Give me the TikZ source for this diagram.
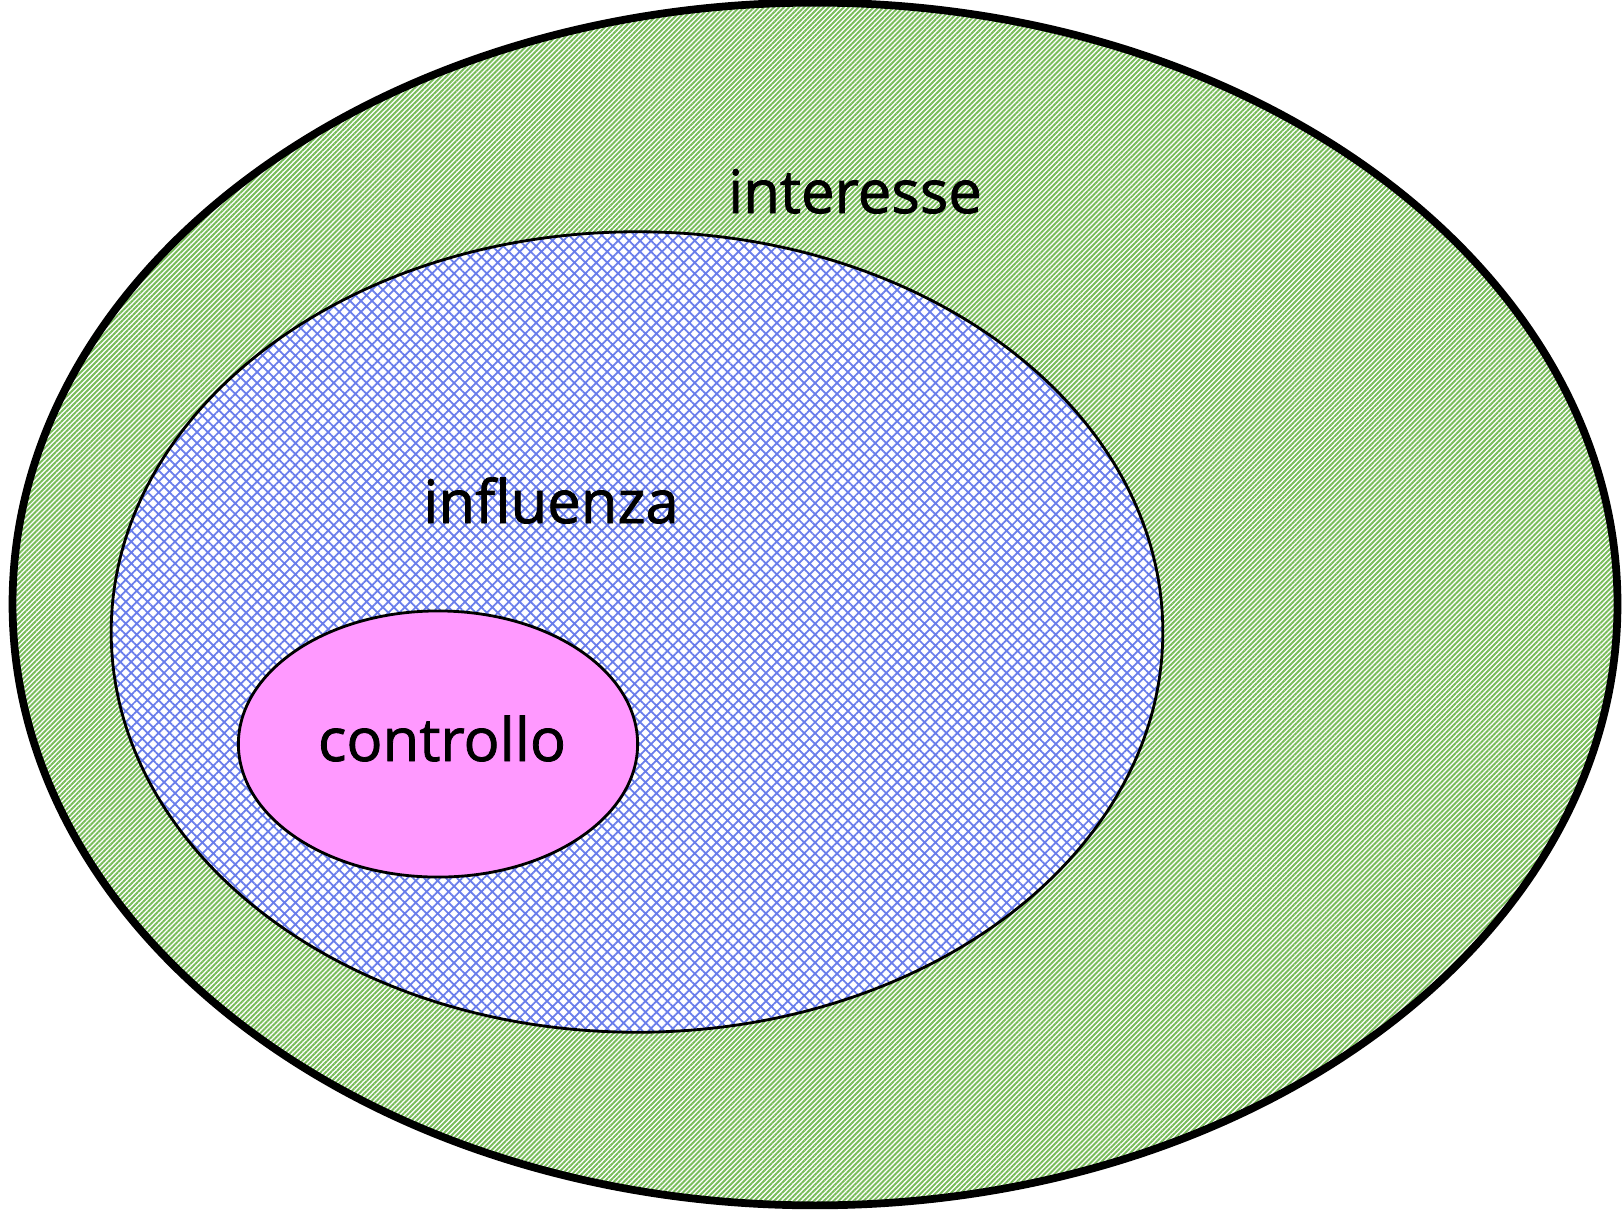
\documentclass[tikz,border=0pt]{standalone}
\usepackage{fontspec}
\setmainfont{Open Sans}
\newfontfamily\zonefont[FakeBold=1.3]{Open Sans}
\usetikzlibrary{shapes.geometric,patterns.meta}

\definecolor{stripegreen}{RGB}{120,188,90}
\definecolor{meshblue}{RGB}{105,125,235}
\definecolor{controlpink}{RGB}{255,153,255}

\tikzset{
  zone/.style={ellipse, draw=black, inner sep=0pt},
  interessezone/.style={zone, line width=2.2pt,
    preaction={fill=white},
    pattern={Lines[angle=45, distance=1pt, line width=0.55pt]}, pattern color=stripegreen},
  influenzazone/.style={zone, line width=0.8pt,
    preaction={fill=white},
    pattern={Hatch[angle=45, distance=2.2pt, line width=0.5pt]}, pattern color=meshblue},
  controllozone/.style={zone, line width=0.8pt, fill=controlpink},
  label/.style={font=\zonefont\fontsize{17}{20}\selectfont, anchor=base}
}

\begin{document}
\begin{tikzpicture}[x=0.01cm, y=-0.01cm]
    \useasboundingbox (0,0) rectangle (1622,1209);

    \node[interessezone, minimum width=16.04cm, minimum height=12.02cm] (interesse) at (815, 604) {};
    \node[influenzazone, minimum width=10.51cm, minimum height=8.0cm] (influenza) at (637, 632) {};
    \node[controllozone, minimum width=3.99cm, minimum height=2.66cm] (controllo) at (438, 744) {};

    \node[label] (interesselabel) at (855, 213) {interesse};
    \node[label] (influenzalabel) at (551, 523) {influenza};
    \node[label] (controllolabel) at (442, 761) {controllo};
\end{tikzpicture}
\end{document}
